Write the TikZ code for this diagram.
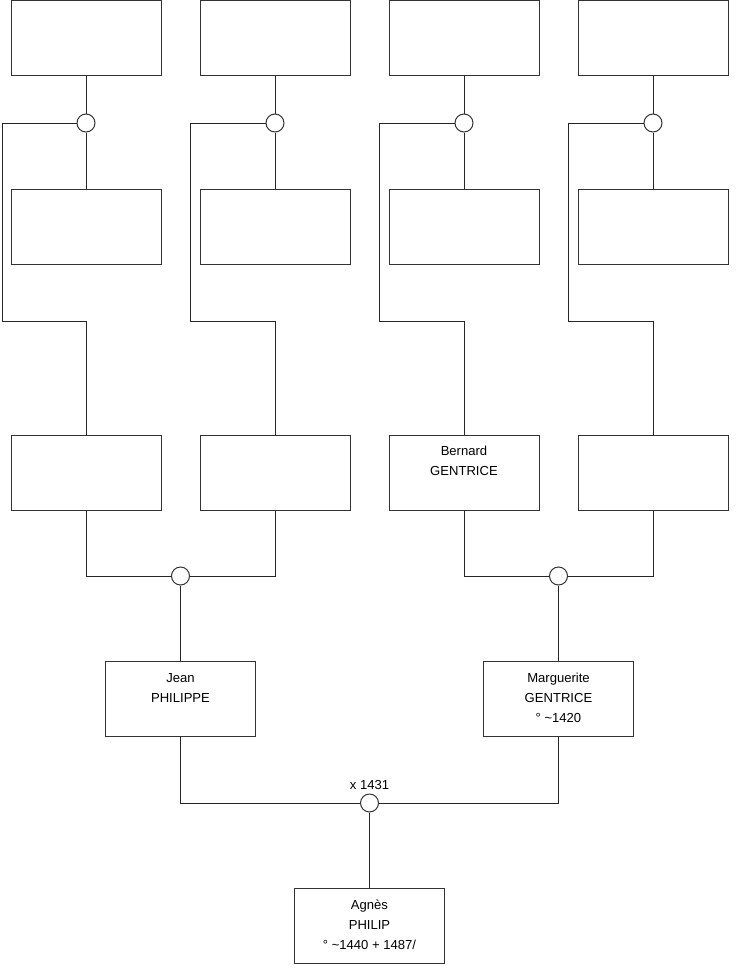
\documentclass[tikz,border=0pt]{standalone}
\usepackage{fontspec}
\setmainfont{Liberation Sans}
\begin{document}
\begin{tikzpicture}[x=0.75pt,y=-0.75pt,
  person/.style={draw=black!80, line width=0.75pt, minimum width=112.5pt, minimum height=56.25pt, inner sep=0pt, fill=white},
  union/.style={circle, draw=black!80, line width=0.75pt, minimum size=13.5pt, inner sep=0pt, fill=white},
  link/.style={draw=black!85, line width=0.75pt},
  lbl/.style={font=\fontsize{9.8}{15}\selectfont, align=center, anchor=north, inner sep=0pt}]
\useasboundingbox (0,0) rectangle (740,975);
% top row
\foreach \i/\x in {1/86,2/275,3/464,4/653} {
  \node[person] (T\i) at (\x,37.5) {};
  \node[union] (C\i) at (\x,123) {};
  \node[person] (M\i) at (\x,227) {};
  \node[person] (R\i) at (\x,472.5) {};
}
\coordinate (L1) at (2,321);
\coordinate (L2) at (190,321);
\coordinate (L3) at (379,321);
\coordinate (L4) at (568,321);
\foreach \i in {1,2,3,4} {
  \draw[link] (T\i.south) -- (C\i.north);
  \draw[link] (C\i.south) -- (M\i.north);
  \draw[link] (C\i.west) -| (L\i) -| (R\i.north);
}
\node[lbl] at ([yshift=-8.5pt]R3.north) {Bernard\\GENTRICE};
\node[union] (D1) at (180.5,576) {};
\node[union] (D2) at (558.5,576) {};
\draw[link] (R1.south) |- (D1.west);
\draw[link] (R2.south) |- (D1.east);
\draw[link] (R3.south) |- (D2.west);
\draw[link] (R4.south) |- (D2.east);
\node[person] (P1) at (180.5,699) {};
\node[person] (P2) at (558.5,699) {};
\node[lbl] at ([yshift=-9pt]P1.north) {Jean\\PHILIPPE};
\node[lbl] at ([yshift=-9pt]P2.north) {Marguerite\\GENTRICE\\° \textasciitilde1420};
\draw[link] (D1.south) -- (P1.north);
\draw[link] (D2.south) -- (P2.north);
\node[union] (E) at (369.5,803) {};
\node[font=\fontsize{9.8}{11}\selectfont, anchor=south, inner sep=0pt] at ([yshift=3pt]E.north) {x 1431};
\draw[link] (P1.south) |- (E.west);
\draw[link] (P2.south) |- (E.east);
\node[person] (B) at (369.5,926) {};
\node[lbl] at ([yshift=-9pt]B.north) {Agnès\\PHILIP\\° \textasciitilde1440 + 1487/};
\draw[link] (E.south) -- (B.north);
\end{tikzpicture}
\end{document}
